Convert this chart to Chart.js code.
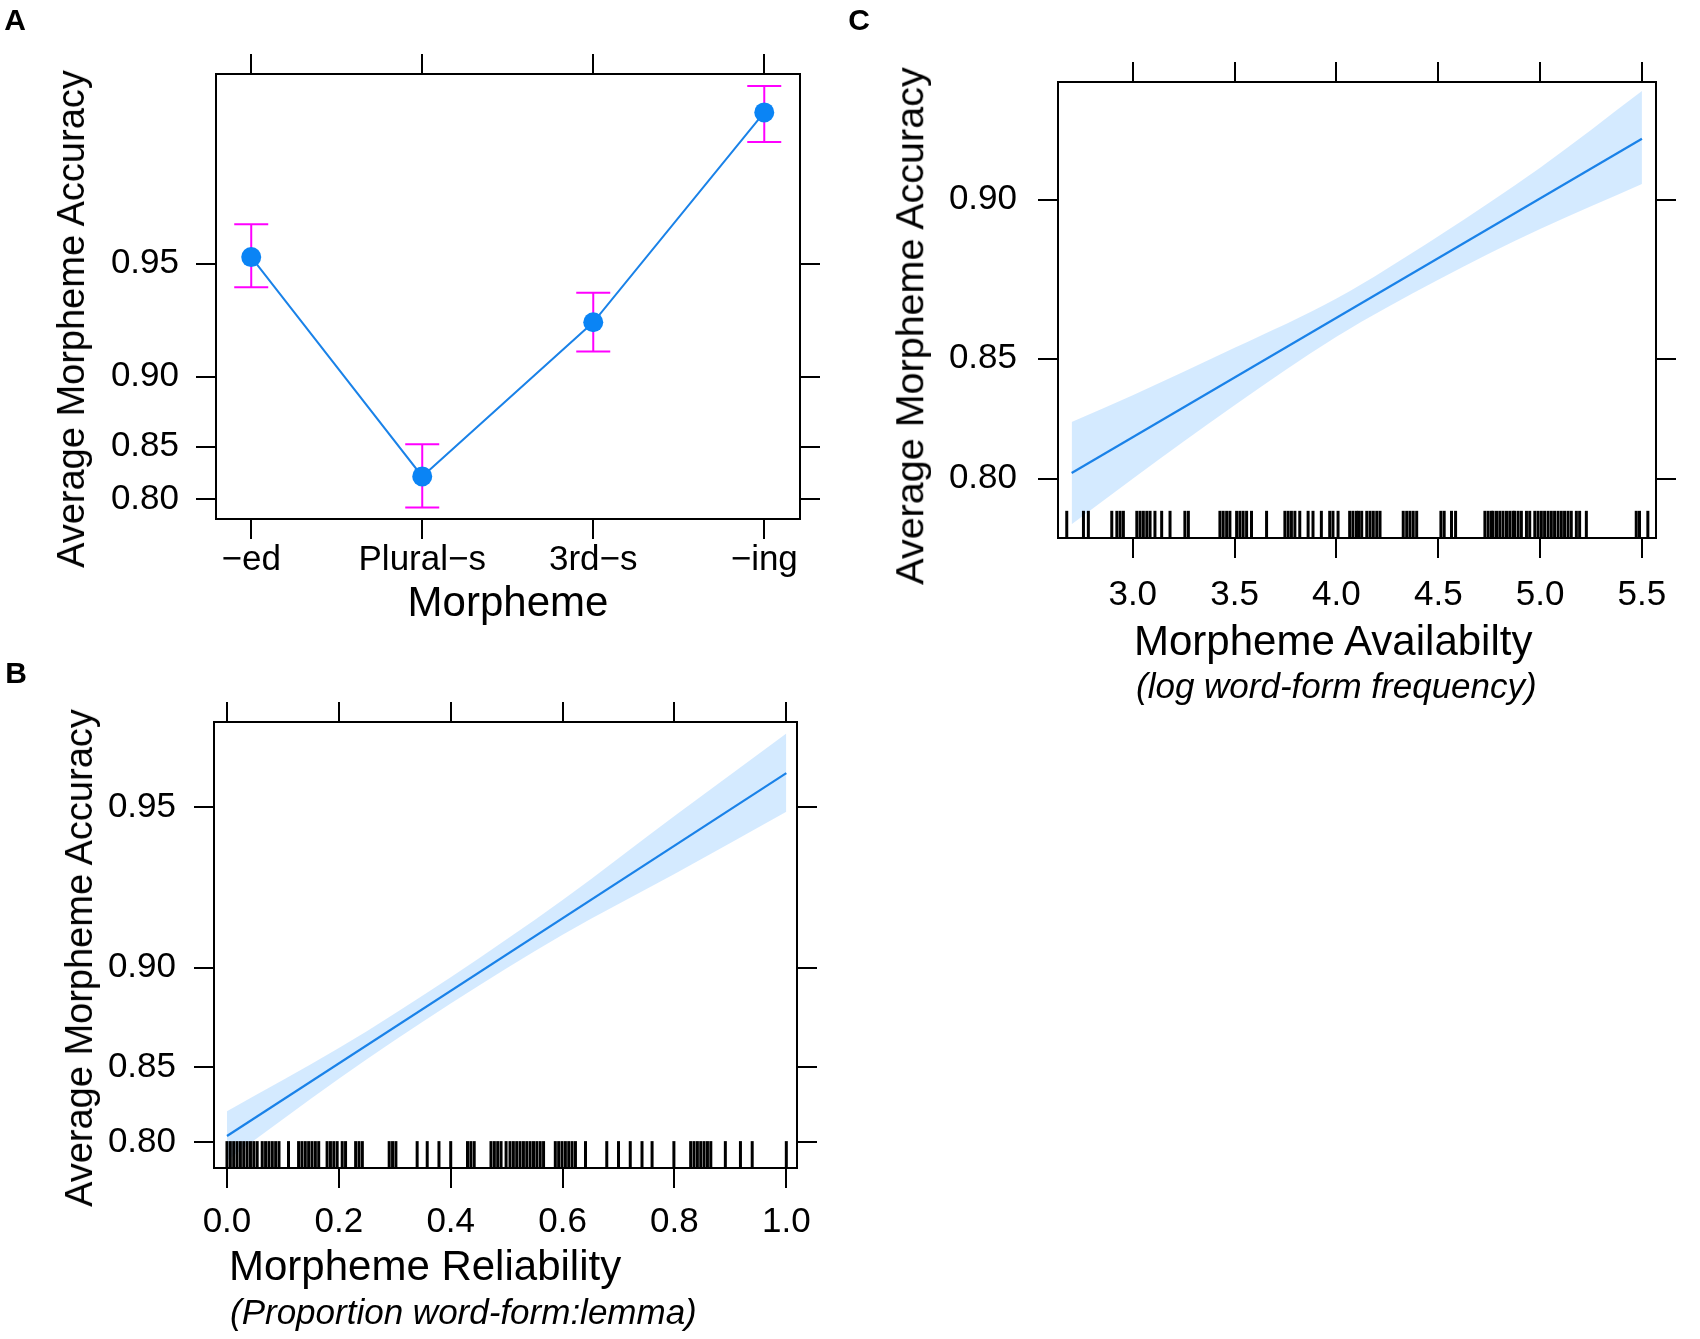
<!DOCTYPE html>
<html>
<head>
<meta charset="utf-8">
<script src="https://cdn.jsdelivr.net/npm/chart.js@4.4.1/dist/chart.umd.min.js"></script>
<style>
  body { margin: 0; background: #fff; }
  #page { position: relative; width: 1700px; height: 1339px; overflow: hidden; background: #fff;
          font-family: "Liberation Sans", Arimo, Arial, sans-serif; color: #000; }
  canvas { position: absolute; }
  .lbl { position: absolute; white-space: nowrap; line-height: 1; }
  .yt { font-size: 38px; transform: translate(-50%, -50%) rotate(-90deg); }
  .xt { font-size: 42px; transform: translate(0, -50%); }
  .xc { font-size: 42px; transform: translate(-50%, -50%); }
  .sub { font-size: 35px; font-style: italic; transform: translate(0, -50%); }
  .tag { font-size: 30px; font-weight: bold; transform: translate(-50%, -50%); }
</style>
</head>
<body>
<div id="page">
  <canvas id="chartA" width="850" height="660" style="left:0;top:0"></canvas>
  <canvas id="chartB" width="850" height="679" style="left:0;top:660px"></canvas>
  <canvas id="chartC" width="850" height="720" style="left:850px;top:0"></canvas>

  <div class="lbl tag" style="left:15px;top:20px">A</div>
  <div class="lbl tag" style="left:16px;top:673px">B</div>
  <div class="lbl tag" style="left:859px;top:20px">C</div>

  <div class="lbl yt" style="left:71px;top:319px">Average Morpheme Accuracy</div>
  <div class="lbl xc" style="left:508px;top:602px">Morpheme</div>

  <div class="lbl yt" style="left:79px;top:958px">Average Morpheme Accuracy</div>
  <div class="lbl xt" style="left:229px;top:1266px">Morpheme Reliability</div>
  <div class="lbl sub" style="left:230px;top:1311px">(Proportion word-form:lemma)</div>

  <div class="lbl yt" style="left:910px;top:326px;font-size:39.5px">Average Morpheme Accuracy</div>
  <div class="lbl xt" style="left:1134px;top:641px">Morpheme Availabilty</div>
  <div class="lbl sub" style="left:1136px;top:685px">(log word-form frequency)</div>
</div>
<script>
// accuracy ticks shared by all three panels (logit axis)
const accuracyTicks = [0.80, 0.85, 0.90, 0.95];

// A: accuracy by morpheme
const morphemes = ['\u2212ed', 'Plural\u2212s', '3rd\u2212s', '\u2212ing'];
const morphemeAccuracy = [0.952, 0.823, 0.928, 0.981];
const morphemeLower = [0.942, 0.791, 0.914, 0.977];
const morphemeUpper = [0.961, 0.852, 0.940, 0.984];

// B: morpheme reliability
const reliabilityTicks = [0, 0.2, 0.4, 0.6, 0.8, 1.0];
const reliabilityFitX = [0, 1];
const reliabilityFit = [0.8045, 0.957];
const reliabilityBandX = [0, 0.2, 0.4, 0.6, 0.8, 1.0];
const reliabilityUpper = [0.822, 0.861, 0.896, 0.925, 0.948, 0.964];
const reliabilityLower = [0.786, 0.843, 0.884, 0.913, 0.933, 0.949];
const reliabilityRug = [
  0.000, 0.006, 0.012, 0.018, 0.024, 0.030, 0.036, 0.042, 0.048, 0.054, 0.063, 0.069,
  0.075, 0.081, 0.087, 0.093, 0.110, 0.128, 0.134, 0.140, 0.146, 0.152, 0.158, 0.164,
  0.179, 0.185, 0.191, 0.197, 0.206, 0.212, 0.230, 0.236, 0.242, 0.290, 0.296, 0.302,
  0.340, 0.358, 0.379, 0.400, 0.430, 0.436, 0.442, 0.472, 0.478, 0.484, 0.490, 0.499,
  0.506, 0.512, 0.518, 0.524, 0.530, 0.536, 0.542, 0.548, 0.554, 0.560, 0.566, 0.587,
  0.593, 0.599, 0.605, 0.611, 0.617, 0.623, 0.641, 0.679, 0.700, 0.721, 0.742, 0.760,
  0.799, 0.829, 0.835, 0.841, 0.847, 0.853, 0.859, 0.865, 0.891, 0.918, 0.939, 1.000
];

// C: morpheme availability
const availabilityTicks = [3.0, 3.5, 4.0, 4.5, 5.0, 5.5];
const availabilityFitX = [2.7, 5.5];
const availabilityFit = [0.8026, 0.9148];
const availabilityBandX = [2.7, 3.0, 3.5, 4.0, 4.5, 5.0, 5.5];
const availabilityUpper = [0.825, 0.836, 0.854, 0.871, 0.890, 0.908, 0.925];
const availabilityLower = [0.778, 0.800, 0.832, 0.858, 0.877, 0.892, 0.904];
const availabilityRug = [
  2.676, 2.758, 2.782, 2.897, 2.922, 2.938, 2.954, 3.020, 3.036, 3.052, 3.069, 3.085,
  3.109, 3.142, 3.183, 3.256, 3.273, 3.428, 3.444, 3.461, 3.477, 3.510, 3.526, 3.542,
  3.559, 3.583, 3.657, 3.747, 3.763, 3.779, 3.796, 3.820, 3.861, 3.885, 3.926, 3.967,
  3.983, 4.008, 4.065, 4.081, 4.098, 4.109, 4.124, 4.149, 4.165, 4.181, 4.198, 4.214,
  4.328, 4.345, 4.361, 4.377, 4.394, 4.513, 4.529, 4.565, 4.585, 4.729, 4.745, 4.761,
  4.769, 4.786, 4.802, 4.818, 4.835, 4.851, 4.867, 4.875, 4.892, 4.908, 4.933, 4.949,
  4.974, 4.990, 5.006, 5.022, 5.039, 5.055, 5.071, 5.088, 5.104, 5.120, 5.137, 5.153,
  5.178, 5.194, 5.227, 5.472, 5.488, 5.529
];

const FONT = '"Liberation Sans", Arimo, Arial, sans-serif';
const LINE_BLUE = '#1a82e8';
const DOT_BLUE = '#0a84f5';
const BAND = 'rgba(0, 128, 255, 0.17)';

const logit = p => Math.log(p / (1 - p));
const invLogit = v => 1 / (1 + Math.exp(-v));
const points = (xs, ys) => xs.map((x, i) => ({x: x, y: logit(ys[i])}));

// force an axis to a fixed thickness so the plot box lands where it should
function sized(px) {
  return function(scale) {
    if (scale.isHorizontal()) scale.height = px;
    else scale.width = px;
  };
}
function fixedTicks(values) {
  return function(scale) { scale.ticks = values.map(v => ({value: v})); };
}

// visible axes only draw the frame, ticks and labels;
// the data sit on hidden twins 'xd' / 'yr' with the same range
function buildScales(o) {
  const grid = () => ({drawOnChartArea: false, drawTicks: true, tickLength: 20, color: '#000', lineWidth: 2, offset: false});
  const border = () => ({display: true, color: '#000', width: 2});
  const font = {family: FONT, size: 35};
  const yMin = logit(o.yMin), yMax = logit(o.yMax);
  const yT = accuracyTicks.map(logit);
  return {
    x: {type: 'linear', position: 'bottom', min: o.xMin, max: o.xMax, offset: false,
        grid: grid(), border: border(), afterBuildTicks: fixedTicks(o.xTicks), afterFit: sized(o.bottom),
        ticks: {color: '#000', font: font, padding: o.padX, autoSkip: false, maxRotation: 0, callback: o.xLabel}},
    x2: {type: 'linear', position: 'top', min: o.xMin, max: o.xMax, offset: false,
         grid: grid(), border: border(), afterBuildTicks: fixedTicks(o.xTicks), afterFit: sized(o.top),
         ticks: {display: false}},
    y: {type: 'linear', position: 'left', min: yMin, max: yMax,
        grid: grid(), border: border(), afterBuildTicks: fixedTicks(yT), afterFit: sized(o.left),
        ticks: {color: '#000', font: font, padding: o.padY, autoSkip: false,
                callback: v => invLogit(v).toFixed(2)}},
    y2: {type: 'linear', position: 'right', min: yMin, max: yMax,
         grid: grid(), border: border(), afterBuildTicks: fixedTicks(yT), afterFit: sized(o.right),
         ticks: {display: false}},
    xd: {type: 'linear', position: 'bottom', display: false, min: o.xMin, max: o.xMax, offset: false},
    yr: {type: 'linear', position: 'left', display: false, min: 0, max: 1}
  };
}

function baseOptions(scales) {
  return {
    responsive: false,
    animation: false,
    events: [],
    layout: {padding: 0},
    plugins: {legend: {display: false}, tooltip: {enabled: false}},
    scales: scales
  };
}

// rug: short vertical strokes standing on the bottom of the box
function rugDataset(values) {
  return {
    type: 'line', xAxisID: 'xd', yAxisID: 'yr', showLine: false,
    data: values.map(v => ({x: v, y: 0.03})),
    pointStyle: 'line', rotation: 90, pointRadius: 13.5,
    pointBorderColor: '#000', pointBorderWidth: 3, order: 1
  };
}

function bandDatasets(xs, upper, lower) {
  const common = {type: 'line', xAxisID: 'xd', yAxisID: 'y', pointRadius: 0, borderWidth: 0,
                  borderColor: 'rgba(0,0,0,0)', cubicInterpolationMode: 'monotone', order: 3};
  return [
    Object.assign({data: points(xs, upper), fill: '+1', backgroundColor: BAND}, common),
    Object.assign({data: points(xs, lower), fill: false}, common)
  ];
}

function fitDataset(xs, ys) {
  return {type: 'line', xAxisID: 'xd', yAxisID: 'y', data: points(xs, ys),
          borderColor: LINE_BLUE, borderWidth: 2.2, pointRadius: 0, order: 0};
}

// ---- Panel A
const datasetsA = [{
  type: 'line', xAxisID: 'xd', yAxisID: 'y',
  data: points([0, 1, 2, 3], morphemeAccuracy),
  borderColor: LINE_BLUE, borderWidth: 2,
  pointRadius: 10, pointBackgroundColor: DOT_BLUE, pointBorderColor: DOT_BLUE, pointBorderWidth: 0,
  order: 0
}];
morphemes.forEach((m, i) => {
  datasetsA.push({
    type: 'line', xAxisID: 'xd', yAxisID: 'y',
    data: [{x: i, y: logit(morphemeLower[i])}, {x: i, y: logit(morphemeUpper[i])}],
    borderColor: '#ff00ff', borderWidth: 2,
    pointStyle: 'line', pointRadius: 17, pointBorderColor: '#ff00ff', pointBorderWidth: 2,
    order: 1
  });
});

new Chart(document.getElementById('chartA'), {
  type: 'line',
  data: {datasets: datasetsA},
  options: baseOptions(buildScales({
    xMin: -0.206, xMax: 3.209, xTicks: [0, 1, 2, 3], xLabel: v => morphemes[Math.round(v)],
    yMin: 0.7782, yMax: 0.9852,
    left: 216, top: 74, right: 50, bottom: 141, padX: 0, padY: 17
  }))
});

// ---- Panel B
new Chart(document.getElementById('chartB'), {
  type: 'line',
  data: {datasets: [
    fitDataset(reliabilityFitX, reliabilityFit),
    ...bandDatasets(reliabilityBandX, reliabilityUpper, reliabilityLower),
    rugDataset(reliabilityRug)
  ]},
  options: baseOptions(buildScales({
    xMin: -0.0232, xMax: 1.0191, xTicks: reliabilityTicks, xLabel: v => v.toFixed(1),
    yMin: 0.7800, yMax: 0.9658,
    left: 214, top: 62, right: 53, bottom: 171, padX: 13, padY: 18
  }))
});

// ---- Panel C
new Chart(document.getElementById('chartC'), {
  type: 'line',
  data: {datasets: [
    fitDataset(availabilityFitX, availabilityFit),
    ...bandDatasets(availabilityBandX, availabilityUpper, availabilityLower),
    rugDataset(availabilityRug)
  ]},
  options: baseOptions(buildScales({
    xMin: 2.633, xMax: 5.569, xTicks: availabilityTicks, xLabel: v => v.toFixed(1),
    yMin: 0.7710, yMax: 0.9268,
    left: 208, top: 82, right: 44, bottom: 182, padX: 16, padY: 21
  }))
});
</script>
</body>
</html>
